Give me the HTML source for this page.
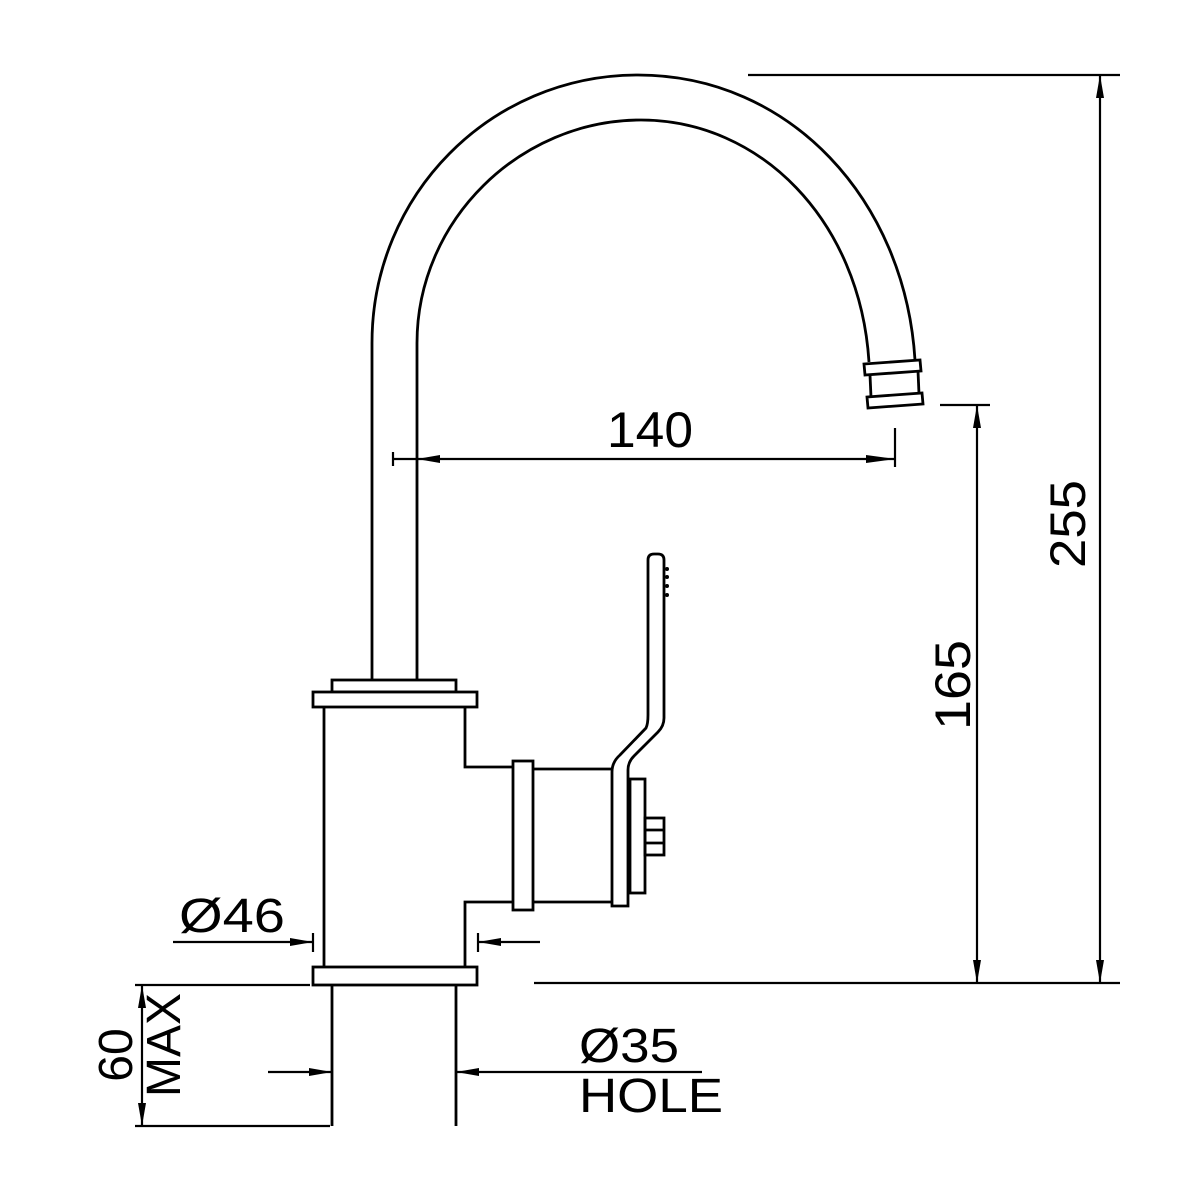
<!DOCTYPE html>
<html><head><meta charset="utf-8"><style>
html,body{margin:0;padding:0;background:#fff}
svg{display:block}
text{font-family:"Liberation Sans",sans-serif;fill:#000}
</style></head><body>
<svg width="1200" height="1200" viewBox="0 0 1200 1200" xmlns="http://www.w3.org/2000/svg">
<g fill="none" stroke="#000" stroke-width="2.8">
<path d="M372,680 L372,343 C372,195 490,75 638,75 C790,75 905,200 915,360"/>
<path d="M417,680 L417,343 C417,220 520,120 641,120 C760,120 860,220 869,362"/>
<polygon points="864,364 920,360 921,371 865,375" fill="#fff"/>
<line x1="870" y1="375" x2="871" y2="397"/>
<line x1="918" y1="371" x2="919" y2="394"/>
<polygon points="867,397 922,393 923,404 868,408" fill="#fff"/>
<rect x="332" y="680" width="124" height="12" fill="#fff"/>
<rect x="313" y="692" width="164" height="15" fill="#fff"/>
<path d="M324,707 L324,967 M465,707 L465,767 L513,767 M465,967 L465,902 L513,902"/>
<rect x="513" y="761" width="20" height="149" fill="#fff"/>
<path d="M533,769 L612,769 M533,902 L612,902"/>
<path d="M612,906 L612,772 Q612,762 620,755 L646,728 Q648,724 648,715 L648,560 Q648,554 654,554 L658,554 Q664,554 664,560 L664,718 Q664,726 658,732 L634,756 Q628,762 628,770 L628,906 Z" fill="#fff"/>
<rect x="630" y="779" width="15" height="114"/>
<rect x="645" y="818" width="19" height="37"/>
<line x1="645" y1="830" x2="664" y2="830"/><line x1="645" y1="843" x2="664" y2="843"/>
<rect x="313" y="967" width="164" height="18" fill="#fff"/>
<path d="M332,985 L332,1126 M456,985 L456,1126"/>
</g>
<g fill="#000">
<circle cx="667" cy="569" r="2"/><circle cx="667" cy="577" r="2"/><circle cx="667" cy="586" r="2"/><circle cx="667" cy="595" r="2"/>
</g>
<g fill="none" stroke="#000" stroke-width="2.2">
<line x1="393" y1="459" x2="895" y2="459"/>
<line x1="393" y1="452" x2="393" y2="466"/>
<line x1="895" y1="428" x2="895" y2="467"/>
<line x1="417" y1="680" x2="417" y2="470"/>
<line x1="940" y1="405" x2="990" y2="405"/>
<line x1="977" y1="405" x2="977" y2="983"/>
<line x1="748" y1="75" x2="1120" y2="75"/>
<line x1="1100" y1="75" x2="1100" y2="983"/>
<line x1="534" y1="983" x2="1120" y2="983"/>
<line x1="173" y1="942" x2="313" y2="942"/>
<line x1="313" y1="933" x2="313" y2="952"/>
<line x1="478" y1="933" x2="478" y2="952"/>
<line x1="478" y1="942" x2="540" y2="942"/>
<line x1="135" y1="985" x2="310" y2="985"/>
<line x1="135" y1="1126" x2="330" y2="1126"/>
<line x1="142" y1="985" x2="142" y2="1126"/>
<line x1="268" y1="1072" x2="332" y2="1072"/>
<line x1="456" y1="1072" x2="702" y2="1072"/>
</g>
<g fill="#000">
<polygon points="417,459 440,455 440,463"/>
<polygon points="895,459 866,455 866,463"/>
<polygon points="977,405 973,428 981,428"/>
<polygon points="977,983 973,960 981,960"/>
<polygon points="1100,75 1096,98 1104,98"/>
<polygon points="1100,983 1096,960 1104,960"/>
<polygon points="313,942 290,938 290,946"/>
<polygon points="478,942 501,938 501,946"/>
<polygon points="142,985 138,1008 146,1008"/>
<polygon points="142,1126 138,1103 146,1103"/>
<polygon points="332,1072 309,1068 309,1076"/>
<polygon points="456,1072 479,1068 479,1076"/>
</g>
<text x="607" y="447" font-size="50" textLength="86" lengthAdjust="spacingAndGlyphs">140</text>
<text x="179" y="932" font-size="48" textLength="106" lengthAdjust="spacingAndGlyphs">Ø46</text>
<text x="579" y="1062" font-size="48" textLength="100" lengthAdjust="spacingAndGlyphs">Ø35</text>
<text x="579" y="1112" font-size="48" textLength="144" lengthAdjust="spacingAndGlyphs">HOLE</text>
<text transform="translate(970,640) rotate(-90)" font-size="50" text-anchor="end" textLength="90" lengthAdjust="spacingAndGlyphs">165</text>
<text transform="translate(1085,480) rotate(-90)" font-size="50" text-anchor="end" textLength="88" lengthAdjust="spacingAndGlyphs">255</text>
<text transform="translate(132,1055) rotate(-90)" font-size="48" text-anchor="middle">60</text>
<text transform="translate(180,1045) rotate(-90)" font-size="48" text-anchor="middle">MAX</text>
</svg>
</body></html>
